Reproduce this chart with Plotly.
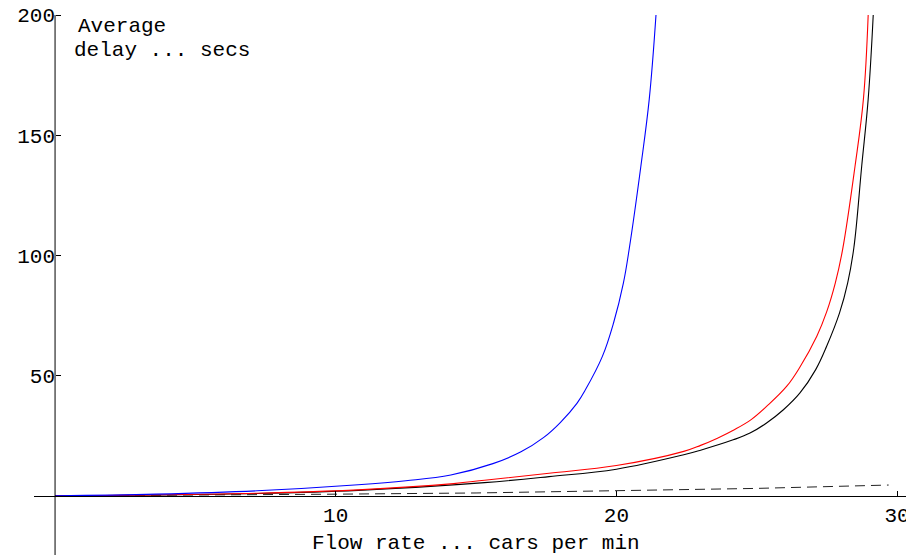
import plotly.graph_objects as go

# Flow rate (cars per min) and average delay (secs)
blue_x = [0, 3.6, 7.2, 10.8, 12.5, 14.1, 15.6, 16.6, 17.4, 18.0, 18.6, 18.9, 19.5, 19.9, 20.25, 20.46, 20.87, 21.17, 21.41]
blue_y = [0, 0.7, 2.1, 4.6, 6.3, 8.7, 13.4, 18.3, 24.2, 30.5, 38.6, 44.2, 58.0, 72.0, 88.6, 103.0, 137.0, 165.0, 200.0]

red_x = [0, 7.2, 10.8, 14.2, 15.3, 17.6, 20.0, 22.4, 23.0, 23.6, 24.2, 24.8, 25.35, 26.07, 26.54, 27.14, 27.49, 27.8, 28.06, 28.5, 28.8, 28.97]
red_y = [0, 1.1, 2.5, 5.1, 6.5, 9.4, 12.6, 18.5, 21.0, 24.0, 27.5, 31.7, 37.2, 45.6, 53.6, 66.4, 76.5, 88.6, 102.5, 137.0, 165.0, 200.0]

black_x = [0, 7.2, 10.8, 15.3, 17.6, 20.0, 22.4, 23.0, 24.16, 24.76, 25.35, 25.95, 26.54, 27.1, 27.49, 27.95, 28.24, 28.46, 28.74, 28.97, 29.15]
black_y = [0, 1.0, 2.3, 5.5, 8.0, 11.1, 17.1, 19.0, 23.3, 26.1, 30.3, 35.8, 42.8, 52.5, 62.2, 76.1, 88.6, 103.2, 137.2, 165.0, 200.0]

dash_x = [0, 5, 10, 15, 20, 25, 29.7]
dash_y = [0, 0.2, 0.7, 1.2, 2.0, 3.1, 4.5]

x_ticks = [10, 20, 30]
y_ticks = [50, 100, 150, 200]

FONT = "Liberation Mono, Courier New, monospace"

# The page body has an 8px default margin, so the figure is drawn 8px smaller
OFF = 8
W, H = 914 - OFF, 555 - OFF
L, T = 34 - OFF, 14 - OFF
PW, PH = W - L - 4, H - T

def px(wx):  # window x pixel -> paper fraction
    return (wx - OFF - L) / PW

def py(wy):  # window y pixel -> paper fraction
    return (H - (wy - OFF)) / PH

line_style = dict(width=1.1, shape="spline", smoothing=1.1)

fig = go.Figure()
fig.add_trace(go.Scatter(x=dash_x, y=dash_y, mode="lines",
                         line=dict(color="#222222", width=1, dash="10px,6px")))
fig.add_trace(go.Scatter(x=black_x, y=black_y, mode="lines", line=dict(color="black", **line_style)))
fig.add_trace(go.Scatter(x=red_x, y=red_y, mode="lines", line=dict(color="#ff0000", **line_style)))
fig.add_trace(go.Scatter(x=blue_x, y=blue_y, mode="lines", line=dict(color="#0000ff", **line_style)))

fig.update_layout(
    width=W, height=H,
    margin=dict(l=L, r=4, t=T, b=0, autoexpand=False),
    plot_bgcolor="white", paper_bgcolor="white",
    showlegend=False,
    font=dict(family=FONT, size=21, color="black"),
    xaxis=dict(range=[-0.75, 30.46], showgrid=False, zeroline=False,
               showline=True, linecolor="black", linewidth=1,
               anchor="free", position=py(496), automargin=False,
               ticks="inside", ticklen=5, tickcolor="black", tickwidth=1,
               ticklabeloverflow="allow",
               tickvals=x_ticks, ticktext=[str(v) for v in x_ticks],
               tickfont=dict(family=FONT, size=21)),
    yaxis=dict(range=[-24.6, 200.42], showgrid=False, zeroline=False,
               showline=False,
               anchor="free", position=px(55), automargin=False,
               ticks="inside", ticklen=5, tickcolor="black", tickwidth=1,
               ticklabeloverflow="allow",
               tickvals=y_ticks, ticktext=[str(v) for v in y_ticks],
               tickfont=dict(family=FONT, size=21)),
    shapes=[
        dict(type="line", xref="x", yref="paper", x0=0, x1=0, y0=0, y1=py(15),
             line=dict(color="black", width=1)),
    ],
    annotations=[
        dict(text="Flow rate ... cars per min", xref="paper", yref="paper",
             x=px(476), y=py(543), xanchor="center", yanchor="middle",
             showarrow=False, font=dict(family=FONT, size=21)),
        dict(text="Average", xref="paper", yref="paper",
             x=px(76), y=py(27), xanchor="left", yanchor="middle",
             showarrow=False, font=dict(family=FONT, size=21)),
        dict(text="delay ... secs", xref="paper", yref="paper",
             x=px(72), y=py(51), xanchor="left", yanchor="middle",
             showarrow=False, font=dict(family=FONT, size=21)),
    ],
)

fig.write_html("out.html")
